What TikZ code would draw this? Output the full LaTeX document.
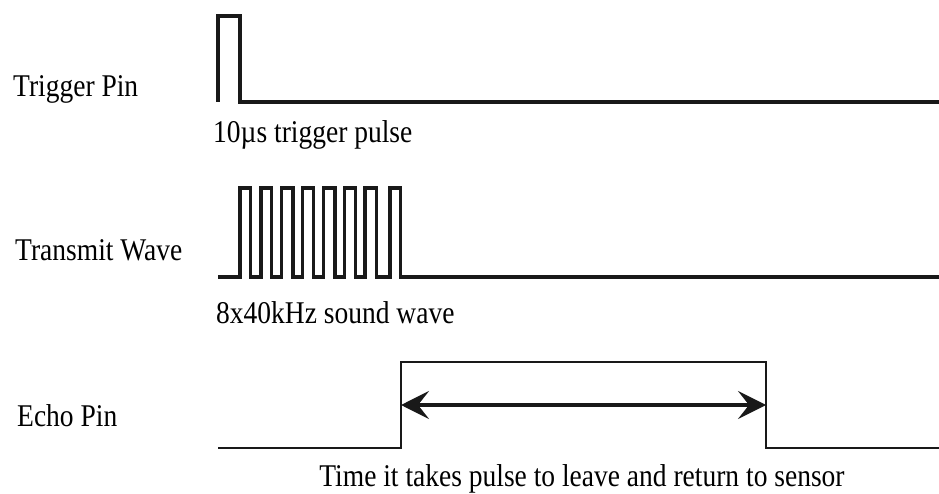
\documentclass[tikz,border=0pt]{standalone}
\usepackage{fontspec}
\setmainfont{Liberation Serif}
\usetikzlibrary{arrows.meta}
\newcommand{\vtxt}[1]{\scalebox{1}[1.15]{#1}}
\tikzset{
  lbl/.style={inner sep=0pt, font=\fontsize{27.5}{30}\selectfont},
  wave/.style={line width=3.2pt, black!90, line join=miter},
  echo/.style={line width=2.4pt, black!90, line join=miter},
  tip/.style={Stealth[length=28pt,width=28pt,inset=11pt]},
  span/.style={line width=3.2pt, black!90, {Stealth[length=28pt,width=28pt,inset=11pt]}-{Stealth[length=28pt,width=28pt,inset=11pt]}}
}
\begin{document}
\begin{tikzpicture}[x=1pt,y=-1pt]
\useasboundingbox (0,0) rectangle (939,494);
% labels
\node[lbl, anchor=base west] (trig) at (13,96.5) {\vtxt{Trigger Pin}};
\node[lbl, anchor=base west] (trans) at (15,261) {\vtxt{Transmit Wave}};
\node[lbl, anchor=base west] (echo) at (17,426) {\vtxt{Echo Pin}};
\node[lbl, anchor=base west] (tp) at (213,143) {\vtxt{10µs trigger pulse}};
\node[lbl, anchor=base west] (sw) at (216,323) {\vtxt{8x40kHz sound wave}};
\node[lbl, anchor=base] (tm) at (582,486) {\vtxt{Time it takes pulse to leave and return to sensor}};
% trigger
\draw[wave] (218,102) -- (218,16) -- (240,16) -- (240,102) -- (939,102);
% transmit wave
\draw[wave] (218,277) -- (240,277)
  -- (240,188) -- (250.7,188) -- (250.7,277) -- (261,277)
  -- (261,188) -- (271.7,188) -- (271.7,277) -- (281.7,277)
  -- (281.7,188) -- (293,188) -- (293,277) -- (302.7,277)
  -- (302.7,188) -- (313.3,188) -- (313.3,277) -- (323.3,277)
  -- (323.3,188) -- (335,188) -- (335,277) -- (344.3,277)
  -- (344.3,188) -- (355.7,188) -- (355.7,277) -- (365,277)
  -- (365,188) -- (376.7,188) -- (376.7,277) -- (390,277)
  -- (390,188) -- (400.7,188) -- (400.7,277) -- (939,277);
% echo
\coordinate (rise) at (401,405);
\coordinate (fall) at (766,405);
\draw[echo] (218,448) -- (401,448) -- (401,362) -- (766,362) -- (766,448) -- (939,448);
\draw[span] (rise) -- (fall);
\end{tikzpicture}
\end{document}
